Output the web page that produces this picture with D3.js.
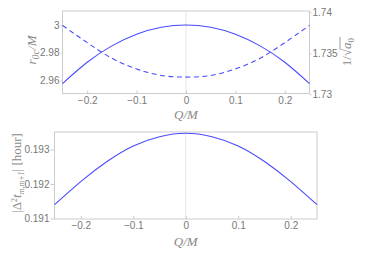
<!DOCTYPE html>
<html>
<head>
<script src="https://d3js.org/d3.v7.min.js"></script>
<style>
  body { margin: 0; background: white; }
  .tick text { font: 10px "Liberation Sans", sans-serif; fill: #777; }
  .lab { font-family: "Liberation Serif", serif; fill: #888; font-size: 13px; }
</style>
</head>
<body>
<svg id="chart" width="374" height="254"></svg>
<script>
  // Q/M samples and values
  var qm = [-0.25, -0.2, -0.15, -0.1, -0.05, 0, 0.05, 0.1, 0.15, 0.2, 0.25];
  var r0c = [2.9577, 2.9731, 2.9849, 2.9933, 2.9983, 3.0, 2.9983, 2.9933, 2.9849, 2.9731, 2.9577];
  var invSqrtA0 = [1.7384, 1.7363, 1.7344, 1.7331, 1.7323, 1.7321, 1.7323, 1.7331, 1.7344, 1.7363, 1.7384];
  var dt = [0.19140, 0.19207, 0.19265, 0.19310, 0.19337, 0.19347, 0.19337, 0.19310, 0.19265, 0.19207, 0.19140];

  var xTicks = [-0.2, -0.1, 0, 0.1, 0.2];
  var leftTicks = [2.96, 2.98, 3];
  var rightTicks = [1.73, 1.735, 1.74];
  var bottomTicks = [0.191, 0.192, 0.193];

  var svg = d3.select("#chart");
  var blue = "#4a4aff";
  var frameCol = "#cccccc";

  function fmtX(d) { return d == 0 ? "0" : (d < 0 ? "\u2212" : "") + Math.abs(d); }

  function frame(g, x0, x1, y0, y1) {
    g.append("rect").attr("x", x0).attr("y", y0).attr("width", x1 - x0).attr("height", y1 - y0)
      .attr("fill", "none").attr("stroke", frameCol);
  }

  function styleAxis(g) {
    g.select(".domain").remove();
    g.selectAll(".tick line").attr("stroke", frameCol);
  }

  // ---- top panel ----
  var p1 = { x0: 62.5, x1: 309.5, y0: 11, y1: 93.5 };
  var xs1 = d3.scaleLinear().domain([-0.25, 0.25]).range([p1.x0, p1.x1]);
  var yl = d3.scaleLinear().domain([2.9505, 3.0101]).range([p1.y1, p1.y0]);
  var yr = d3.scaleLinear().domain([1.7301, 1.74016]).range([p1.y1, p1.y0]);

  var g1 = svg.append("g");
  g1.append("line").attr("x1", xs1(0)).attr("x2", xs1(0)).attr("y1", p1.y0).attr("y2", p1.y1)
    .attr("stroke", "#e6e6e6");
  frame(g1, p1.x0, p1.x1, p1.y0, p1.y1);

  g1.append("g").attr("transform", "translate(0," + p1.y1 + ")")
    .call(d3.axisBottom(xs1).tickValues(xTicks).tickFormat(fmtX).tickSize(-3).tickPadding(3))
    .call(styleAxis);
  g1.append("g").attr("transform", "translate(" + p1.x0 + ",0)")
    .call(d3.axisLeft(yl).tickValues(leftTicks).tickFormat(d3.format("")).tickSize(2).tickPadding(1))
    .call(styleAxis);
  g1.append("g").attr("transform", "translate(" + p1.x1 + ",0)")
    .call(d3.axisRight(yr).tickValues(rightTicks).tickFormat(d3.format("")).tickSize(2).tickPadding(1))
    .call(styleAxis);

  var line1 = d3.line().x(function(d, i) { return xs1(qm[i]); }).y(function(d) { return yl(d); }).curve(d3.curveNatural);
  var line2 = d3.line().x(function(d, i) { return xs1(qm[i]); }).y(function(d) { return yr(d); }).curve(d3.curveNatural);
  g1.append("path").attr("d", line1(r0c)).attr("fill", "none").attr("stroke", blue).attr("stroke-width", 1.1);
  g1.append("path").attr("d", line2(invSqrtA0)).attr("fill", "none").attr("stroke", blue)
    .attr("stroke-width", 1.1).attr("stroke-dasharray", "5,3.5");

  // labels
  var lt = g1.append("text").attr("class", "lab").attr("transform", "translate(36,50) rotate(-90)")
    .attr("text-anchor", "middle").attr("font-style", "italic").attr("font-size", 15);
  lt.append("tspan").text("r");
  lt.append("tspan").attr("dy", 3).attr("font-size", 10).text("0c");
  lt.append("tspan").attr("dy", -3).text("/M");

  g1.append("text").attr("class", "lab").attr("x", xs1(0)).attr("y", 119)
    .attr("text-anchor", "middle").attr("font-style", "italic").text("Q/M");

  // right label 1/sqrt(a0)
  var rg = g1.append("g").attr("transform", "translate(351,52) rotate(-90)");
  var rt = rg.append("text").attr("class", "lab");
  rt.append("tspan").text("1/\u221A");
  rt.append("tspan").attr("font-style", "italic").text("a");
  rt.append("tspan").attr("dy", 3).attr("font-size", 9).text("0");
  var full = rt.node().getComputedTextLength();
  var before = rt.node().getSubStringLength(0, 3);
  rt.attr("x", -full / 2);
  rg.append("line").attr("x1", -full / 2 + before - 1).attr("x2", full / 2 + 1)
    .attr("y1", -11).attr("y2", -11).attr("stroke", "#888").attr("stroke-width", 0.8);

  // ---- bottom panel ----
  var p2 = { x0: 54.5, x1: 317, y0: 132, y1: 219 };
  var xs2 = d3.scaleLinear().domain([-0.25, 0.25]).range([p2.x0, p2.x1]);
  var yb = d3.scaleLinear().domain([0.191, 0.193]).range([218.5, 149.5]);

  var g2 = svg.append("g");
  g2.append("line").attr("x1", xs2(0)).attr("x2", xs2(0)).attr("y1", p2.y0).attr("y2", p2.y1)
    .attr("stroke", "#e6e6e6");
  frame(g2, p2.x0, p2.x1, p2.y0, p2.y1);

  g2.append("g").attr("transform", "translate(0," + p2.y1 + ")")
    .call(d3.axisBottom(xs2).tickValues(xTicks).tickFormat(fmtX).tickSize(-3).tickPadding(3))
    .call(styleAxis);
  g2.append("g").attr("transform", "translate(" + p2.x0 + ",0)")
    .call(d3.axisLeft(yb).tickValues(bottomTicks).tickFormat(d3.format("")).tickSize(4).tickPadding(1))
    .call(styleAxis);

  var line3 = d3.line().x(function(d, i) { return xs2(qm[i]); }).y(function(d) { return yb(d); }).curve(d3.curveNatural);
  g2.append("path").attr("d", line3(dt)).attr("fill", "none").attr("stroke", blue).attr("stroke-width", 1.1);

  var bt = g2.append("text").attr("class", "lab").attr("transform", "translate(21,173) rotate(-90)")
    .attr("text-anchor", "middle").attr("font-size", 12);
  bt.append("tspan").text("|\u0394");
  bt.append("tspan").attr("dy", -4).attr("font-size", 8).text("2");
  bt.append("tspan").attr("dy", 4).attr("font-style", "italic").text("t");
  bt.append("tspan").attr("dy", 3).attr("font-size", 8).attr("font-style", "italic").text("m,m+1");
  bt.append("tspan").attr("dy", -3).text("| [hour]");

  g2.append("text").attr("class", "lab").attr("x", xs2(0)).attr("y", 246)
    .attr("text-anchor", "middle").attr("font-style", "italic").text("Q/M");
</script>
</body>
</html>
